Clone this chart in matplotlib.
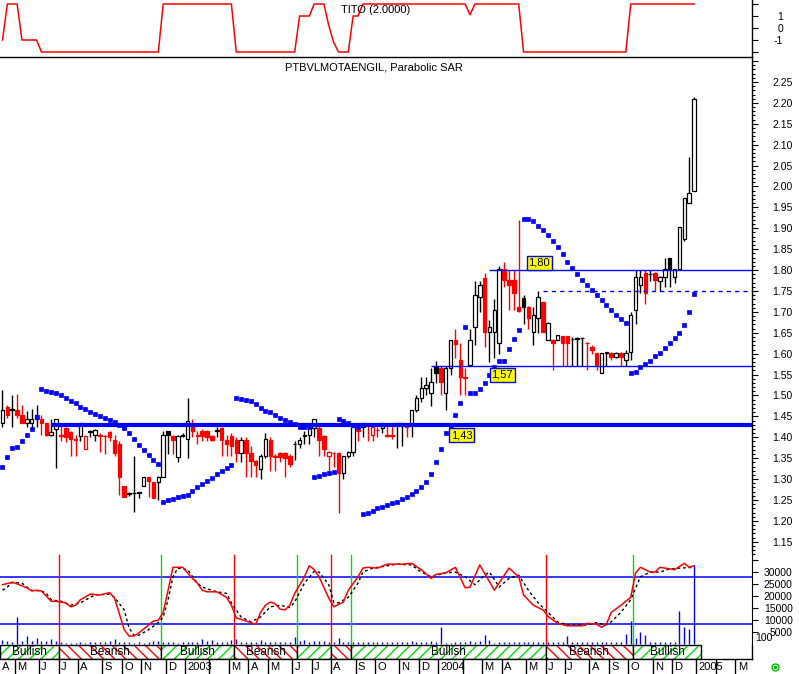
import numpy as np
import pandas as pd
import matplotlib
matplotlib.use("Agg")
import matplotlib.pyplot as plt
from matplotlib.patches import Rectangle
from matplotlib.lines import Line2D
from matplotlib.ticker import MultipleLocator, FuncFormatter, FixedLocator

plt.rcParams['font.family'] = ['Liberation Sans', 'DejaVu Sans']
plt.rcParams['hatch.linewidth'] = 1.0

# ---- weekly candles (PTBVLMOTAENGIL) ----
opens = [1.434, 1.472, 1.466, 1.465, 1.453, 1.434, 1.434, 1.443, 1.443, 1.434,
         1.405, 1.420, 1.405, 1.422, 1.413, 1.396, 1.403, 1.373, 1.413, 1.405,
         1.405, 1.404, 1.413, 1.394, 1.384, 1.283, 1.265, 1.267, 1.267, 1.283,
         1.305, 1.293, 1.293, 1.305, 1.415, 1.403, 1.353, 1.404, 1.395, 1.434,
         1.405, 1.415, 1.415, 1.403, 1.415, 1.422, 1.394, 1.403, 1.394, 1.363,
         1.394, 1.363, 1.343, 1.324, 1.355, 1.394, 1.355, 1.363, 1.363, 1.355,
         1.384, 1.384, 1.404, 1.405, 1.422, 1.422, 1.403, 1.355, 1.363, 1.363,
         1.315, 1.355, 1.365, 1.417, 1.425, 1.431, 1.405, 1.418, 1.422, 1.405,
         1.405, 1.433, 1.430, 1.431, 1.430, 1.465, 1.494, 1.518, 1.506, 1.570,
         1.566, 1.506, 1.566, 1.633, 1.585, 1.545, 1.573, 1.664, 1.735, 1.781,
         1.652, 1.652, 1.626, 1.803, 1.776, 1.776, 1.712, 1.733, 1.712, 1.652,
         1.685, 1.724, 1.633, 1.633, 1.633, 1.642, 1.642, 1.635, 1.636, 1.637,
         1.626, 1.615, 1.602, 1.554, 1.602, 1.602, 1.592, 1.602, 1.585, 1.604,
         1.705, 1.764, 1.793, 1.790, 1.793, 1.774, 1.783, 1.830, 1.783, 1.803,
         1.875, 1.960, 1.990]
highs = [1.513, 1.478, 1.500, 1.504, 1.478, 1.462, 1.467, 1.478, 1.453, 1.434,
         1.443, 1.443, 1.434, 1.425, 1.415, 1.405, 1.434, 1.405, 1.418, 1.420,
         1.410, 1.406, 1.415, 1.405, 1.390, 1.283, 1.270, 1.355, 1.270, 1.305,
         1.305, 1.293, 1.308, 1.415, 1.415, 1.405, 1.405, 1.410, 1.494, 1.443,
         1.415, 1.420, 1.418, 1.405, 1.425, 1.425, 1.405, 1.410, 1.400, 1.400,
         1.400, 1.380, 1.345, 1.360, 1.410, 1.400, 1.360, 1.365, 1.365, 1.360,
         1.390, 1.400, 1.415, 1.425, 1.443, 1.427, 1.405, 1.368, 1.365, 1.365,
         1.355, 1.368, 1.430, 1.430, 1.435, 1.435, 1.428, 1.425, 1.434, 1.430,
         1.430, 1.434, 1.435, 1.432, 1.466, 1.500, 1.545, 1.545, 1.565, 1.583,
         1.570, 1.570, 1.633, 1.660, 1.625, 1.565, 1.660, 1.775, 1.775, 1.793,
         1.680, 1.730, 1.810, 1.820, 1.800, 1.800, 1.920, 1.740, 1.715, 1.712,
         1.750, 1.724, 1.675, 1.635, 1.645, 1.642, 1.642, 1.640, 1.640, 1.640,
         1.628, 1.620, 1.602, 1.602, 1.605, 1.605, 1.603, 1.603, 1.610, 1.700,
         1.800, 1.800, 1.800, 1.800, 1.795, 1.786, 1.830, 1.830, 1.803, 1.903,
         1.972, 2.070, 2.213]
lows = [1.425, 1.445, 1.425, 1.446, 1.434, 1.425, 1.420, 1.425, 1.405, 1.403,
        1.403, 1.326, 1.390, 1.388, 1.355, 1.355, 1.390, 1.373, 1.400, 1.390,
        1.365, 1.360, 1.390, 1.355, 1.262, 1.257, 1.260, 1.222, 1.255, 1.283,
        1.257, 1.255, 1.250, 1.305, 1.360, 1.360, 1.340, 1.400, 1.350, 1.400,
        1.385, 1.390, 1.390, 1.390, 1.400, 1.355, 1.355, 1.355, 1.340, 1.340,
        1.305, 1.305, 1.305, 1.300, 1.350, 1.320, 1.320, 1.340, 1.305, 1.330,
        1.345, 1.375, 1.384, 1.384, 1.400, 1.355, 1.355, 1.320, 1.330, 1.220,
        1.300, 1.350, 1.355, 1.390, 1.400, 1.390, 1.390, 1.400, 1.410, 1.400,
        1.395, 1.375, 1.378, 1.400, 1.400, 1.460, 1.485, 1.500, 1.475, 1.530,
        1.500, 1.465, 1.550, 1.590, 1.500, 1.500, 1.570, 1.620, 1.700, 1.615,
        1.580, 1.590, 1.600, 1.760, 1.705, 1.705, 1.700, 1.670, 1.660, 1.620,
        1.650, 1.652, 1.633, 1.560, 1.633, 1.570, 1.570, 1.570, 1.570, 1.570,
        1.560, 1.600, 1.560, 1.554, 1.570, 1.585, 1.590, 1.570, 1.570, 1.585,
        1.670, 1.745, 1.720, 1.775, 1.750, 1.750, 1.760, 1.760, 1.770, 1.800,
        1.870, 1.960, 1.990]
closes = [1.465, 1.453, 1.468, 1.453, 1.434, 1.443, 1.443, 1.453, 1.434, 1.405,
          1.412, 1.443, 1.403, 1.400, 1.396, 1.394, 1.434, 1.403, 1.415, 1.417,
          1.404, 1.403, 1.401, 1.363, 1.305, 1.257, 1.267, 1.267, 1.268, 1.305,
          1.295, 1.255, 1.305, 1.405, 1.405, 1.394, 1.403, 1.405, 1.440, 1.415,
          1.404, 1.403, 1.401, 1.394, 1.417, 1.394, 1.384, 1.380, 1.363, 1.394,
          1.363, 1.343, 1.334, 1.355, 1.395, 1.355, 1.354, 1.352, 1.351, 1.336,
          1.385, 1.394, 1.405, 1.422, 1.443, 1.394, 1.373, 1.365, 1.362, 1.315,
          1.355, 1.365, 1.425, 1.416, 1.434, 1.430, 1.425, 1.417, 1.434, 1.404,
          1.403, 1.434, 1.435, 1.424, 1.465, 1.494, 1.518, 1.525, 1.533, 1.553,
          1.532, 1.566, 1.633, 1.623, 1.544, 1.543, 1.633, 1.740, 1.764, 1.652,
          1.664, 1.705, 1.803, 1.776, 1.764, 1.745, 1.703, 1.712, 1.685, 1.693,
          1.735, 1.652, 1.673, 1.626, 1.645, 1.626, 1.625, 1.636, 1.637, 1.637,
          1.625, 1.610, 1.573, 1.602, 1.603, 1.592, 1.602, 1.592, 1.602, 1.693,
          1.783, 1.783, 1.745, 1.790, 1.776, 1.783, 1.803, 1.803, 1.803, 1.903,
          1.972, 1.985, 2.210]

# parabolic SAR dots, one per week
sar = [1.329, 1.353, 1.374, 1.377, 1.391, 1.405, 1.420, 1.449,
       1.516, 1.511, 1.508, 1.506, 1.501, 1.494, 1.487, 1.482, 1.472, 1.468,
       1.461, 1.456, 1.451, 1.446, 1.441, 1.437, 1.429, 1.422, 1.410, 1.396,
       1.382, 1.370, 1.358, 1.346, 1.336,
       1.245, 1.250, 1.252, 1.257, 1.260, 1.262, 1.272, 1.281, 1.288, 1.295,
       1.303, 1.312, 1.319, 1.327, 1.334,
       1.494, 1.492, 1.489, 1.487, 1.480, 1.470, 1.463, 1.461, 1.453, 1.446,
       1.441, 1.437, 1.432, 1.425, 1.425, 1.425,
       1.305, 1.307, 1.312, 1.315, 1.317,
       1.444, 1.439, 1.434, 1.430, 1.425,
       1.217, 1.219, 1.224, 1.231, 1.233, 1.238, 1.243, 1.245, 1.252, 1.257,
       1.264, 1.272, 1.280, 1.294, 1.313, 1.341, 1.372, 1.410, 1.427, 1.453,
       1.482,
       1.664,
       1.506, 1.506, 1.516, 1.530, 1.549, 1.568, 1.583, 1.583, 1.611, 1.635,
       1.657,
       1.922, 1.922, 1.917, 1.906, 1.896, 1.884, 1.870, 1.855, 1.839, 1.819,
       1.805, 1.791, 1.776, 1.764, 1.752, 1.740, 1.728, 1.717, 1.705, 1.693,
       1.683, 1.673,
       1.554, 1.556, 1.568, 1.575, 1.583, 1.594, 1.602, 1.614, 1.626, 1.638,
       1.650, 1.669, 1.700, 1.743]

volume = [1500, 1100, 600, 11100, 1100, 3200, 1100, 2300, 1000, 1200,
          2000, 1200, 700, 500, 500, 500, 900, 500, 600, 600,
          900, 700, 1000, 2000, 600, 600, 600, 500, 600, 500,
          600, 1100, 1000, 800, 600, 600, 500, 600, 800, 600,
          800, 2000, 1100, 1500, 600, 600, 600, 1500, 2000, 600,
          600, 600, 600, 1500, 600, 600, 600, 600, 600, 600,
          2800, 1100, 1500, 800, 1100, 1100, 1100, 600, 600, 2300,
          600, 600, 600, 600, 600, 600, 600, 600, 600, 700,
          600, 600, 600, 600, 1100, 700, 700, 600, 1100, 700,
          7000, 500, 500, 600, 600, 600, 1100, 700, 1100, 3600,
          1500, 500, 600, 600, 600, 600, 700, 600, 600, 600,
          600, 600, 600, 600, 600, 600, 3200, 600, 600, 600,
          600, 600, 600, 600, 600, 600, 600, 600, 4000, 9500,
          2300, 4900, 3600, 600, 700, 600, 700, 700, 700, 13600,
          7000, 6100, 33000]

# oscillator (red) and its signal (dashed), as (week, value) points
osc_week = [0, 2, 3, 5, 6, 7, 8, 10, 11, 13, 14, 15, 16, 18, 20, 22, 23, 25, 26, 27,
            28, 30, 31, 32, 33, 34, 35, 37, 39, 40, 41, 42, 44, 46, 47, 48, 50, 52, 53, 54,
            55, 56, 57, 58, 59, 60, 62, 63, 64, 65, 67, 68, 70, 71, 73, 74, 75, 77, 79, 82,
            84, 86, 88, 89, 91, 93, 95, 96, 98, 101, 104, 106, 107, 109, 111, 112, 114, 116, 119, 120,
            122, 123, 124, 125, 127, 129, 130, 131, 133, 134, 135, 138, 140, 141, 142]
osc_val = [70, 73, 71, 66, 62, 63, 62, 49, 49, 47, 42, 44, 51, 58, 57, 60, 53, 13, 5, 5,
           9, 19, 24, 25, 35, 63, 92, 92, 78, 72, 63, 61, 61, 54, 44, 28, 24, 20, 35, 44,
           48, 46, 39, 38, 44, 59, 80, 94, 89, 80, 53, 42, 48, 63, 80, 91, 92, 91, 96, 96,
           97, 89, 78, 83, 85, 92, 66, 67, 95, 63, 91, 80, 57, 44, 38, 30, 21, 18, 18, 21,
           20, 16, 20, 35, 44, 54, 85, 92, 86, 86, 92, 89, 97, 92, 94]
sig_week = [0, 1, 2, 4, 5, 6, 8, 9, 10, 12, 14, 16, 18, 19, 22, 23, 25, 26, 27, 28,
            30, 32, 33, 34, 35, 36, 38, 40, 41, 44, 46, 47, 49, 51, 53, 55, 57, 59, 60, 62,
            64, 65, 67, 68, 69, 71, 73, 74, 76, 79, 81, 84, 86, 88, 91, 93, 95, 97, 99, 100,
            102, 104, 106, 108, 110, 112, 114, 116, 120, 122, 124, 125, 127, 129, 131, 133, 135, 137, 139, 142]
sig_val = [63, 67, 73, 72, 67, 63, 62, 59, 51, 49, 44, 47, 54, 57, 58, 54, 38, 15, 6, 6,
           13, 22, 29, 51, 80, 91, 89, 72, 67, 61, 59, 47, 29, 23, 29, 42, 44, 41, 48, 72,
           87, 86, 70, 48, 47, 54, 72, 86, 91, 94, 96, 95, 86, 80, 85, 86, 80, 70, 82, 86,
           67, 78, 82, 63, 47, 35, 23, 19, 19, 22, 19, 23, 35, 51, 80, 86, 86, 90, 91, 92]

# TITO indicator, (week, value) points
tito_week = [0, 1, 3, 4, 7, 8, 32, 33, 47, 48, 60, 61, 63, 64, 66, 67, 68, 69, 71, 72,
             73, 74, 95, 96, 97, 106, 107, 128, 129, 142]
tito_val = [-1, 2, 2, -1, -1, -2, -2, 2, 2, -2, -2, 1, 1, 2, 2, 0.2, -1.2, -2, -2, 1,
            1, 2, 2, 1.1, 2, 2, -2, -2, 2, 2]

# trend state bands: first week of each state
state_week = [0, 12, 33, 48, 61, 68, 72, 112, 130]
state_name = ["Bullish", "Bearish", "Bullish", "Bearish", "Bullish", "Bearish",
              "Bullish", "Bearish", "Bullish"]
state_end = 144

# horizontal levels: value, first week
level_val = [1.43, 1.57, 1.80]
level_from = [10, 88, 100]
dash_val, dash_from = 1.75, 111

n = len(closes)
assert len(sar) == n and len(volume) == n
weeks = pd.date_range("2002-04-12", periods=160, freq="W-FRI")

W, H = 799, 674
PXB = 4.87      # pixels per weekly bar
X0 = 2.5        # pixel of first bar
AXW = 752
RED, BLUE, GREEN = "#ff0000", "#0000ff", "#00dd00"

fig = plt.figure(figsize=(W / 100, H / 100), dpi=100)


def add_ax(top, bottom, **kw):
    return fig.add_axes([0, 1 - bottom / H, AXW / W, (bottom - top) / H], **kw)


def price_at(y):
    return 2.25 - (y - 82) / 418.0


xlim = (-X0 / PXB, (AXW - X0) / PXB)
x = np.arange(n)
o, h, l, c = map(np.array, (opens, highs, lows, closes))

# ---------------- TITO panel ----------------
ax_t = add_ax(0, 57)
ax_t.plot(tito_week, tito_val, color=RED, lw=1.1)
ax_t.set_xlim(xlim)
ax_t.set_ylim(2 - 53 / 12, 2 + 4 / 12)
for s in ["top", "left", "bottom"]:
    ax_t.spines[s].set_visible(False)
ax_t.spines["right"].set_linewidth(1)
ax_t.set_xticks([])
ax_t.yaxis.tick_right()
ax_t.set_yticks([-2, -1, 0, 1, 2])
ax_t.set_yticklabels(["", "-1", "0", "1", ""])
ax_t.tick_params(axis="y", length=4.3, width=0.8, pad=18, labelsize=7.5)
for lb in ax_t.get_yticklabels():
    lb.set_ha("right")
ax_t.text(0.5, 0.82, "TITO (2.0000)", transform=ax_t.transAxes, ha="center",
          va="center", fontsize=8)

# ---------------- price panel ----------------
ax = add_ax(57, 555)
ax.set_xlim(xlim)
ax.set_ylim(price_at(555), price_at(57))
prev = np.r_[c[0], c[:-1]]
cols = np.where(c < prev, RED, "black")
ax.vlines(x, l, h, colors=cols, lw=1, zorder=2)
for i in range(n):
    lo, hi = min(o[i], c[i]), max(o[i], c[i])
    face = cols[i] if c[i] < o[i] else "white"
    ax.add_patch(Rectangle((i - 0.36, lo), 0.72, hi - lo, facecolor=face,
                           edgecolor=cols[i], lw=0.9, zorder=3))

for v, w0 in zip(level_val, level_from):
    ax.hlines(v, w0, xlim[1], color=BLUE, lw=3.0 if v == 1.43 else 1.0, zorder=4)
ax.hlines(dash_val, dash_from, xlim[1], color=BLUE, lw=1.0, linestyles=(0, (3, 3)), zorder=4)

ax.plot(x, sar, "s", ms=2.3, mew=0.5, color=BLUE, zorder=5)

box = dict(boxstyle="square,pad=0.15", fc="#ffff00", ec=BLUE, lw=1)
ax.text(110.2, price_at(268), "1,80", ha="center", va="bottom", fontsize=8, bbox=box, zorder=6)
ax.text(102.6, price_at(370), "1,57", ha="center", va="top", fontsize=8, bbox=box, zorder=6)
ax.text(94.3, price_at(430), "1,43", ha="center", va="top", fontsize=8, bbox=box, zorder=6)

for s in ["left", "bottom"]:
    ax.spines[s].set_visible(False)
ax.spines["top"].set_linewidth(1)
ax.spines["right"].set_linewidth(1)
ax.set_xticks([])
ax.yaxis.tick_right()
ax.yaxis.set_major_locator(MultipleLocator(0.05))
ax.yaxis.set_minor_locator(MultipleLocator(0.01))
ax.yaxis.set_major_formatter(FuncFormatter(lambda v, p: f"{v:.2f}" if 1.149 < v < 2.251 else ""))
ax.tick_params(axis="y", which="major", length=4.3, width=0.8, pad=25, labelsize=7.5)
ax.tick_params(axis="y", which="minor", length=2.2, width=0.8)
for lb in ax.get_yticklabels():
    lb.set_ha("right")
fig.text(374 / W, 1 - 67 / H, "PTBVLMOTAENGIL, Parabolic SAR", ha="center",
         va="center", fontsize=8)

# ---------------- oscillator / volume panel ----------------
ax_v = add_ax(553, 645)
ax_v.set_xlim(xlim)
ax_v.set_ylim((643.7 - 645) / 2.4 * 1000, (643.7 - 553) / 2.4 * 1000)
ax_v.vlines(x, 0, volume, color=BLUE, lw=1)
for s in ["top", "left", "bottom"]:
    ax_v.spines[s].set_visible(False)
ax_v.set_xticks([])
ax_v.yaxis.tick_right()
ax_v.yaxis.set_major_locator(FixedLocator([5000, 10000, 15000, 20000, 25000, 30000, 35000]))
ax_v.yaxis.set_major_formatter(FuncFormatter(lambda v, p: f"{v:.0f}" if v < 31000 else ""))
ax_v.tick_params(axis="y", length=4.3, width=0.8, pad=25, labelsize=7.5)
for lb in ax_v.get_yticklabels():
    lb.set_ha("right")

ax_o = add_ax(553, 645, frameon=False)
ax_o.set_xlim(xlim)
ax_o.set_ylim((640 - 645) / 0.79, (640 - 553) / 0.79)
ax_o.set_xticks([])
ax_o.set_yticks([])
ax_o.axhline(80, color=BLUE, lw=1.1)
ax_o.axhline(20, color=BLUE, lw=1.1)
for k, w0 in enumerate(state_week[1:], start=1):
    ax_o.axvline(w0 - 0.5, ymax=0.98, color=GREEN if state_name[k] == "Bullish" else RED, lw=1)
ax_o.plot(sig_week, sig_val, color="black", lw=1, ls=(0, (2, 2)))
ax_o.plot(osc_week, osc_val, color=RED, lw=1.1)

# ---------------- state band ----------------
ax_b = add_ax(645, 659)
ax_b.set_xlim(xlim)
ax_b.set_ylim(0, 1)
ax_b.axis("off")
bounds = state_week + [state_end]
for k, name in enumerate(state_name):
    a, b = bounds[k] - 0.5, bounds[k + 1] - 0.5
    if k == 0:
        a = xlim[0]
    bull = name == "Bullish"
    ax_b.add_patch(Rectangle((a, 0), b - a, 1, facecolor="white", lw=0,
                             edgecolor=GREEN if bull else RED,
                             hatch="///" if bull else "\\\\\\", clip_on=False))
    ax_b.add_patch(Rectangle((a, 0), b - a, 1, fill=False, edgecolor="black",
                             lw=1, clip_on=False))
    if bounds[k + 1] - bounds[k] >= 10:
        ax_b.text((a + b) / 2, 0.5, name, ha="center", va="center", fontsize=8.5)
ax_b.plot([xlim[1], xlim[1]], [0, 1], color="black", lw=1, clip_on=False)

# ---------------- date strip ----------------
ax_d = add_ax(659, 674)
ax_d.set_xlim(xlim)
ax_d.set_ylim(0, 1)
ax_d.set_xticks([])
ax_d.set_yticks([])
for s in ["left", "right", "bottom"]:
    ax_d.spines[s].set_visible(False)
ax_d.spines["top"].set_linewidth(1)
letters = "JFMAMJJASOND"
ax_d.text(-0.5 + 0.45, 0.45, letters[weeks[0].month - 1], ha="left", va="center", fontsize=8)
for i in range(1, len(weeks)):
    if weeks[i].month != weeks[i - 1].month and i - 0.5 < xlim[1]:
        ax_d.axvline(i - 0.5, color="black", lw=1)
        m = weeks[i].month
        if m == 2:
            continue
        lab = str(weeks[i].year) if m == 1 else letters[m - 1]
        ax_d.text(i - 0.5 + 0.45, 0.45, lab, ha="left", va="center", fontsize=8)

# small decorations at the right edge
fig.text(755 / W, 1 - 638 / H, "100", ha="left", va="center", fontsize=7.5)
fig.add_artist(Line2D([775 / W], [1 - 667 / H], marker="o", ms=5, mfc="none",
                      mec="#00c000", mew=1, transform=fig.transFigure))
fig.add_artist(Line2D([775 / W], [1 - 667 / H], marker="o", ms=1.5, mfc="#00c000",
                      mec="#00c000", transform=fig.transFigure))

fig.savefig("out.png", dpi=100)
